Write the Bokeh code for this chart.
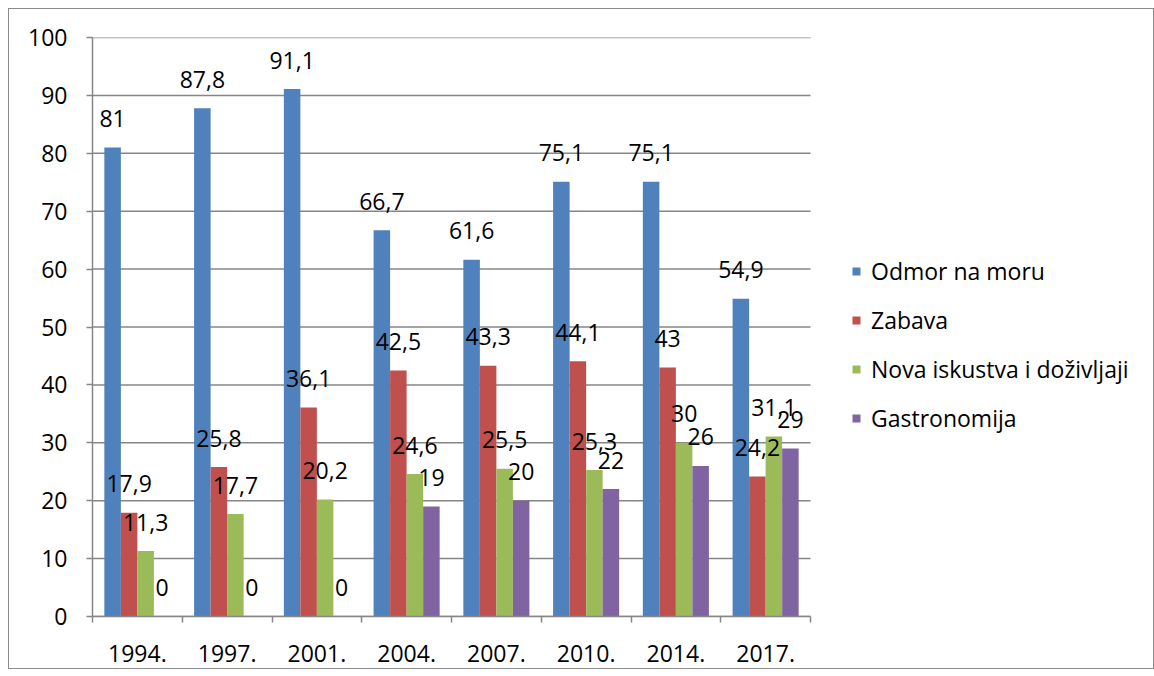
from bokeh.plotting import figure
from bokeh.models import ColumnDataSource, FixedTicker, Legend, LegendItem, Range1d
from bokeh.transform import dodge
from bokeh.core.properties import value
from bokeh.embed import file_html
from bokeh.resources import INLINE

years = ["1994.", "1997.", "2001.", "2004.", "2007.", "2010.", "2014.", "2017."]
odmor = [81, 87.8, 91.1, 66.7, 61.6, 75.1, 75.1, 54.9]
zabava = [17.9, 25.8, 36.1, 42.5, 43.3, 44.1, 43, 24.2]
nova = [11.3, 17.7, 20.2, 24.6, 25.5, 25.3, 30, 31.1]
gastro = [0, 0, 0, 19, 20, 22, 26, 29]
series_names = ["Odmor na moru", "Zabava", "Nova iskustva i doživljaji", "Gastronomija"]
colors = ["#4F81BD", "#C0504D", "#9BBB59", "#8064A2"]
y_ticks = list(range(0, 101, 10))

FONT = "Open Sans"
FS = "23px"
GRID = "#868686"

W, H = 1146, 661
ML, MT, MB, MR = 83, 28, 54, 4
frame_w = W - ML - MR
plot_w = 718  # pixel width of the category area
n = len(years)

p = figure(width=W, height=H, output_backend="svg", toolbar_location=None,
           x_range=Range1d(0, n * frame_w / plot_w), y_range=Range1d(0, 100),
           min_border_left=ML, min_border_top=MT, min_border_bottom=MB, min_border_right=MR)
p.outline_line_color = None
p.styles = {"border": "1.5px solid #8c8c8c", "margin-left": "8px", "margin-top": "8px"}
p.background_fill_color = "white"

centers = [i + 0.5 for i in range(n)]

# horizontal grid lines limited to the category area
p.segment(x0=[0] * len(y_ticks), x1=[n] * len(y_ticks), y0=y_ticks, y1=y_ticks,
          line_color=GRID, line_width=1.5)

bar_w = 0.184
offsets = [-0.276, -0.092, 0.092, 0.276]
renderers = []
sources = []
for vals, name, col, off in zip([odmor, zabava, nova, gastro], series_names, colors, offsets):
    src = ColumnDataSource(dict(x=centers, top=vals,
                                lbl=[f"{v:g}".replace(".", ",") for v in vals]))
    r = p.vbar(x=dodge("x", off), top="top", width=bar_w, bottom=0, source=src,
               fill_color=col, line_color=None)
    renderers.append((name, r))
    sources.append((src, off))

for src, off in sources:
    p.text(x=dodge("x", off), y="top", text="lbl", source=src, text_align="center",
           text_baseline="alphabetic", y_offset=-29, text_font=value(FONT),
           text_font_size=FS, text_color="#000000")

# axes
p.xaxis.bounds = (0, n)
p.xaxis.ticker = FixedTicker(ticks=centers, minor_ticks=list(range(n + 1)))
p.xaxis.major_label_overrides = {c: y for c, y in zip(centers, years)}
p.xaxis.major_tick_line_color = None
p.xaxis.minor_tick_line_color = GRID
p.xaxis.minor_tick_line_width = 1.5
p.xaxis.minor_tick_in = 0
p.xaxis.minor_tick_out = 6
p.xaxis.axis_line_color = GRID
p.xaxis.axis_line_width = 1.5
p.xaxis.major_label_standoff = 22
p.xaxis.major_label_text_font = FONT
p.xaxis.major_label_text_font_size = FS
p.xaxis.major_label_text_color = "#000000"

p.yaxis.ticker = FixedTicker(ticks=y_ticks)
p.yaxis.minor_tick_line_color = None
p.yaxis.major_tick_line_color = GRID
p.yaxis.major_tick_line_width = 1.5
p.yaxis.major_tick_in = 0
p.yaxis.major_tick_out = 6
p.yaxis.axis_line_color = GRID
p.yaxis.axis_line_width = 1.5
p.yaxis.major_label_standoff = 19
p.yaxis.major_label_text_font = FONT
p.yaxis.major_label_text_font_size = FS
p.yaxis.major_label_text_color = "#000000"

p.xgrid.grid_line_color = None
p.ygrid.grid_line_color = None

legend = Legend(items=[LegendItem(label=nm, renderers=[r]) for nm, r in renderers],
                location=(759, 182), orientation="vertical",
                label_text_font=FONT, label_text_font_size="23px", label_text_color="#000000",
                glyph_width=10, glyph_height=10, label_height=20, spacing=17,
                label_standoff=10, padding=0, margin=0,
                border_line_color=None, background_fill_alpha=0)
p.add_layout(legend, "center")

open("out.html", "w").write(file_html(p, INLINE))
